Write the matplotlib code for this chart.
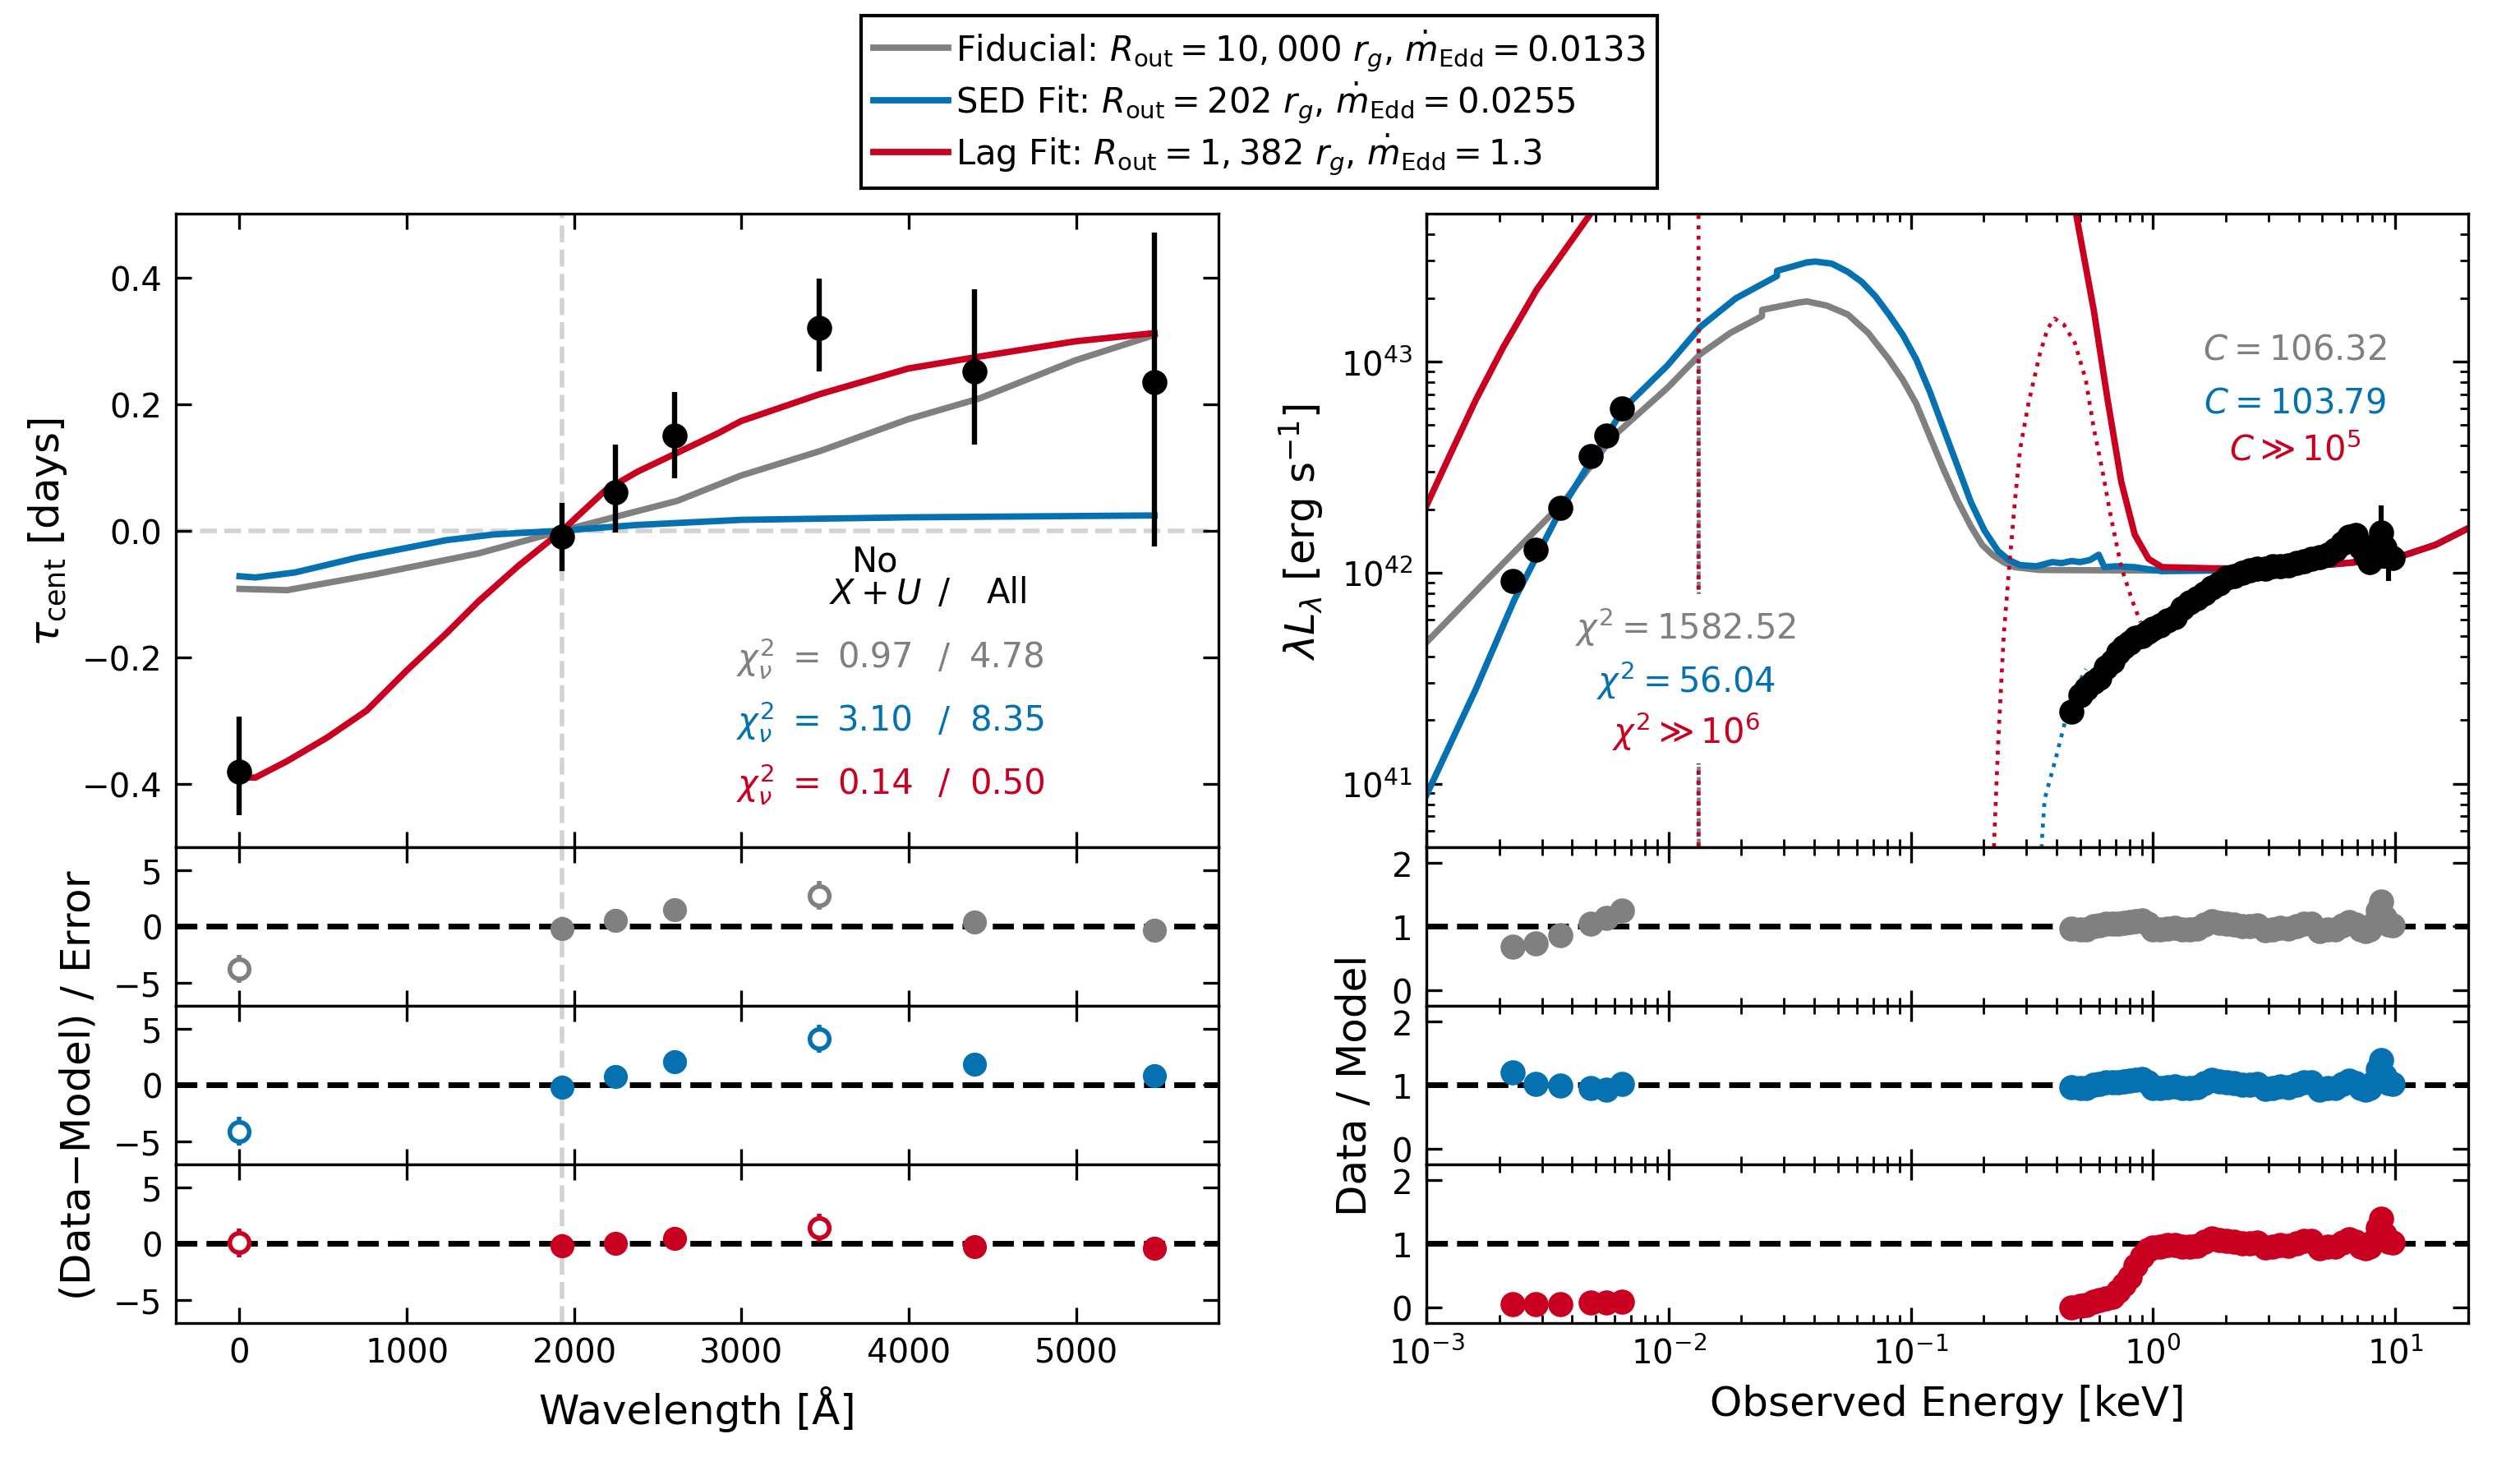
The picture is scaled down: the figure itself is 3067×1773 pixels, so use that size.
import matplotlib
matplotlib.use('Agg')
import matplotlib.pyplot as plt
import numpy as np

# ---------------- colours ----------------
GRAY, BLUE, RED = '#808080', '#0571b0', '#ca0020'

# ---------------- left: lag spectrum ----------------
wl = [0, 1928, 2246, 2600, 3465, 4392, 5468]
tau = [-0.381, -0.009, 0.060, 0.150, 0.320, 0.252, 0.234]
tau_lo = [0.069, 0.055, 0.063, 0.067, 0.068, 0.116, 0.259]
tau_hi = [0.087, 0.053, 0.076, 0.069, 0.078, 0.129, 0.237]
excluded = [True, False, False, False, True, False, False]
ref_wl = 1928

fid_wl = [0, 285, 809, 1427, 1928, 2616, 2997, 3473, 3996, 4424, 4995, 5468]
fid_tau = [-0.092, -0.094, -0.069, -0.036, 0.0, 0.047, 0.087, 0.126, 0.176, 0.209, 0.269, 0.309]
sed_wl = [0, 95, 333, 714, 1237, 1522, 1928, 2378, 2997, 3996, 5468]
sed_tau = [-0.072, -0.074, -0.066, -0.042, -0.015, -0.006, 0.0, 0.009, 0.017, 0.021, 0.024]
lag_wl = [0, 95, 285, 523, 761, 999, 1237, 1427, 1665, 1928, 2188, 2378, 2616, 2854,
          2997, 3473, 3996, 4424, 4995, 5468]
lag_tau = [-0.390, -0.390, -0.364, -0.327, -0.284, -0.221, -0.162, -0.112, -0.056, 0.0,
           0.064, 0.093, 0.123, 0.153, 0.173, 0.216, 0.256, 0.275, 0.299, 0.312]

res_fid = [-3.75, -0.20, 0.56, 1.50, 2.74, 0.39, -0.35]
res_sed = [-4.08, -0.21, 0.78, 2.06, 4.11, 1.81, 0.82]
res_lag = [0.07, -0.18, 0.00, 0.46, 1.41, -0.28, -0.39]
res_err = [1.25, 1.0, 1.0, 1.0, 1.25, 1.0, 1.0]

chi2_noXU = ['0.97', '3.10', '0.14']
chi2_all = ['4.78', '8.35', '0.50']

# ---------------- right: SED ----------------
fid_E = [0.001, 0.00208, 0.00369, 0.00589, 0.00991, 0.01355, 0.018, 0.0243, 0.02435, 0.0345,
         0.0373, 0.0451, 0.055, 0.0667, 0.0813, 0.0927, 0.1054, 0.120, 0.1365, 0.1555, 0.177,
         0.197, 0.218, 0.242, 0.2685, 0.339, 0.40, 1.0, 1.84, 3.0, 5.0, 7.0, 10.0, 14.7, 20.0]
fid_logL = [41.669, 42.045, 42.335, 42.644, 42.876, 43.036, 43.136, 43.215, 43.245, 43.28,
            43.285, 43.265, 43.223, 43.136, 43.01, 42.914, 42.80, 42.644, 42.49, 42.345, 42.22,
            42.132, 42.084, 42.049, 42.026, 42.013, 42.012, 42.01, 42.02, 42.02, 42.035, 42.05,
            42.068, 42.132, 42.21]
sed_E = [0.001, 0.0016, 0.00231, 0.00351, 0.00455, 0.00655, 0.00991, 0.01355, 0.01897, 0.0280,
         0.02805, 0.0373, 0.0404, 0.0472, 0.055, 0.0627, 0.0714, 0.0813, 0.0927, 0.1054, 0.120,
         0.1365, 0.1555, 0.177, 0.2014, 0.229, 0.254, 0.282, 0.33, 0.384, 0.42, 0.46, 0.50,
         0.55, 0.597, 0.630, 0.70, 0.838, 1.086, 1.84, 3.0, 5.0, 7.0, 10.0, 14.7, 20.0]
sed_logL = [40.945, 41.447, 41.872, 42.277, 42.49, 42.78, 42.982, 43.165, 43.30, 43.405,
            43.43, 43.47, 43.474, 43.464, 43.425, 43.378, 43.31, 43.223, 43.127, 43.01, 42.856,
            42.683, 42.509, 42.335, 42.2, 42.103, 42.06, 42.036, 42.03, 42.05, 42.045, 42.055,
            42.05, 42.06, 42.085, 42.026, 42.03, 42.026, 42.007, 42.01, 42.02, 42.035, 42.05,
            42.068, 42.132, 42.21]
lag_E = [0.001, 0.00124, 0.0016, 0.00208, 0.00285, 0.0048, 0.007, 0.05, 0.40, 0.482, 0.570,
         0.650, 0.740, 0.841, 0.959, 1.09, 1.84, 3.0, 5.0, 7.0, 10.0, 14.7, 20.0]
lag_logL = [42.316, 42.547, 42.818, 43.069, 43.339, 43.706, 43.95, 45.5, 44.3, 43.696, 43.242,
            42.818, 42.43, 42.18, 42.065, 42.026, 42.02, 42.02, 42.035, 42.05, 42.068, 42.132,
            42.21]

# absorbed (observed-frame) models, dotted
lyman_E = 0.0133
fid_abs_E = [lyman_E, lyman_E]
fid_abs_logL = [43.03, 38.0]
sed_abs_E = [lyman_E, lyman_E, 0.30, 0.330, 0.348, 0.357, 0.397, 0.429, 0.463, 0.528]
sed_abs_logL = [43.155, 38.0, 38.0, 40.0, 40.733, 40.926, 41.12, 41.273, 41.408, 41.543]
lag_abs_E = [lyman_E, lyman_E, 0.20, 0.215, 0.221, 0.230, 0.242, 0.255, 0.269, 0.283, 0.306,
             0.340, 0.367, 0.392, 0.429, 0.476, 0.528, 0.570, 0.617, 0.667, 0.740, 0.820, 0.887]
lag_abs_logL = [46.0, 38.0, 38.0, 40.0, 40.73, 41.215, 41.70, 42.026, 42.335, 42.586, 42.80,
                43.03, 43.155, 43.204, 43.175, 43.088, 42.914, 42.683, 42.49, 42.277, 42.026,
                41.87, 41.766]

uv_E = [0.00227, 0.00282, 0.00358, 0.00477, 0.00552, 0.00643]
uv_logL = [41.962, 42.107, 42.306, 42.553, 42.650, 42.777]

xray_E = [0.46, 0.50, 0.53, 0.57, 0.60, 0.64, 0.68, 0.72, 0.76, 0.80, 0.85, 0.90, 0.95, 1.00,
          1.07, 1.15, 1.23, 1.32, 1.42, 1.52, 1.63, 1.75, 1.88, 2.02, 2.17, 2.33, 2.50, 2.70,
          2.90, 3.12, 3.36, 3.62, 3.90, 4.20, 4.52, 4.87, 5.25, 5.65, 6.05, 6.45, 6.85, 7.20,
          7.55, 7.85, 8.15, 8.45, 8.75, 9.05, 9.40, 9.80]
xray_logL = [41.34, 41.42, 41.45, 41.48, 41.50, 41.55, 41.58, 41.62, 41.65, 41.67, 41.69, 41.70,
             41.72, 41.735, 41.75, 41.775, 41.79, 41.83, 41.86, 41.88, 41.90, 41.93, 41.95,
             41.975, 41.985, 42.00, 42.01, 42.02, 42.02, 42.03, 42.03, 42.035, 42.045, 42.055,
             42.065, 42.075, 42.085, 42.11, 42.14, 42.17, 42.18, 42.12, 42.08, 42.05, 42.07,
             42.14, 42.19, 42.12, 42.08, 42.07]
xray_err_dex = [0.01] * 41 + [0.03, 0.04, 0.05, 0.07, 0.10, 0.13, 0.10, 0.12, 0.06]

ratio_fid_uv = [0.68, 0.73, 0.86, 1.05, 1.13, 1.25]
ratio_sed_uv = [1.20, 1.02, 0.99, 0.95, 0.93, 1.02]
ratio_lag_uv = [0.05, 0.05, 0.05, 0.07, 0.07, 0.08]

ratio_fid_x = [0.97, 0.95, 0.96, 1.00, 1.02, 1.04, 1.05, 1.04, 1.06, 1.07, 1.08, 1.10, 1.05,
               0.96, 0.95, 0.97, 0.98, 0.96, 0.95, 0.97, 1.03, 1.08, 1.06, 1.05, 1.03, 1.00,
               1.01, 1.02, 0.94, 0.96, 0.98, 0.97, 1.00, 1.05, 1.04, 0.93, 0.96, 0.95, 1.02,
               1.07, 1.03, 0.95, 0.93, 0.95, 1.05, 1.25, 1.40, 1.15, 1.03, 1.02]
ratio_sed_x = ratio_fid_x
ratio_lag_x = [0.00, 0.02, 0.04, 0.08, 0.11, 0.14, 0.17, 0.25, 0.36, 0.48, 0.65, 0.80, 0.90,
               0.94, 0.96, 0.98, 0.98, 0.96, 0.95, 0.97, 1.03, 1.08, 1.06, 1.05, 1.03, 1.00,
               1.01, 1.02, 0.94, 0.96, 0.98, 0.97, 1.00, 1.05, 1.04, 0.93, 0.96, 0.95, 1.02,
               1.07, 1.03, 0.95, 0.93, 0.95, 1.05, 1.25, 1.40, 1.15, 1.03, 1.02]
ratio_err_x = [0.02] * 41 + [0.05, 0.06, 0.07, 0.10, 0.14, 0.17, 0.14, 0.15, 0.08]

sed_chi2_txt = [r'$\chi^2 = 1582.52$', r'$\chi^2 = 56.04$', r'$\chi^2 \gg 10^6$']
sed_C_txt = [r'$C = 106.32$', r'$C = 103.79$', r'$C \gg 10^5$']

legend_labels = [r'Fiducial: $R_{\rm out} = 10,000\ r_g$, $\dot{m}_{\rm Edd} = 0.0133$',
                 r'SED Fit: $R_{\rm out} = 202\ r_g$, $\dot{m}_{\rm Edd} = 0.0255$',
                 r'Lag Fit: $R_{\rm out} = 1,382\ r_g$, $\dot{m}_{\rm Edd} = 1.3$']

# ---------------- style ----------------
plt.rcParams.update({
    'font.family': ['DejaVu Sans'],
    'font.size': 15,
    'mathtext.fontset': 'dejavusans',
    'axes.linewidth': 1.2,
    'xtick.direction': 'in', 'ytick.direction': 'in',
    'xtick.top': True, 'ytick.right': True,
    'xtick.major.size': 7, 'ytick.major.size': 7,
    'xtick.minor.size': 3.5, 'ytick.minor.size': 3.5,
    'xtick.major.width': 1.2, 'ytick.major.width': 1.2,
    'xtick.minor.width': 1.0, 'ytick.minor.width': 1.0,
    'xtick.major.pad': 6, 'ytick.major.pad': 6,
    'xtick.labelsize': 14.5, 'ytick.labelsize': 14.5,
})

fig = plt.figure(figsize=(3067 / 200, 1774 / 200), dpi=200)

L0, LW = 0.0698, 0.4137
R0, RW = 0.5660, 0.4134
TOP_B, TOP_H = 0.4183, 0.4343
RES_H = 0.1088
res_bottoms = [TOP_B - RES_H, TOP_B - 2 * RES_H, TOP_B - 3 * RES_H]
LTGRAY = '#d3d3d3'
MLW = 2.8
MS = 10

# ======== LEFT ========
axL = fig.add_axes([L0, TOP_B, LW, TOP_H])
axL.axhline(0, color=LTGRAY, ls='--', lw=2, zorder=1)
axL.axvline(ref_wl, color=LTGRAY, ls='--', lw=2, zorder=1)
l_fid, = axL.plot(fid_wl, fid_tau, color=GRAY, lw=MLW, zorder=2)
l_sed, = axL.plot(sed_wl, sed_tau, color=BLUE, lw=MLW, zorder=2)
l_lag, = axL.plot(lag_wl, lag_tau, color=RED, lw=MLW, zorder=2)
axL.errorbar(wl, tau, yerr=[tau_lo, tau_hi], fmt='o', color='k', ms=MS, elinewidth=2.3,
             capsize=0, zorder=5)
axL.set_xlim(-380, 5850)
axL.set_ylim(-0.5, 0.5)
axL.set_yticks([-0.4, -0.2, 0.0, 0.2, 0.4])
axL.set_xticks([0, 1000, 2000, 3000, 4000, 5000])
axL.tick_params(labelbottom=False)

tkw = dict(transform=axL.transAxes, ha='center', va='center', fontsize=15)
axL.text(0.671, 0.452, 'No', **tkw)
axL.text(0.671, 0.402, r'$X+U$', **tkw)
axL.text(0.737, 0.402, '/', **tkw)
axL.text(0.798, 0.402, 'All', **tkw)
for yy, c, v1, v2 in zip([0.300, 0.200, 0.101], [GRAY, BLUE, RED], chi2_noXU, chi2_all):
    axL.text(0.5556, yy, r'$\chi^2_\nu$', color=c, **tkw)
    axL.text(0.605, yy, '=', color=c, **tkw)
    axL.text(0.671, yy, v1, color=c, **tkw)
    axL.text(0.737, yy, '/', color=c, **tkw)
    axL.text(0.798, yy, v2, color=c, **tkw)

for i, (res, c) in enumerate(zip([res_fid, res_sed, res_lag], [GRAY, BLUE, RED])):
    ax = fig.add_axes([L0, res_bottoms[i], LW, RES_H])
    ax.axhline(0, color='k', ls='--', lw=2.5, zorder=1)
    ax.axvline(ref_wl, color=LTGRAY, ls='--', lw=2, zorder=0)
    for xi, ri, ex, ei in zip(wl, res, excluded, res_err):
        ax.errorbar(xi, ri, yerr=ei, fmt='o', color=c, mfc='white' if ex else c, mec=c,
                    mew=2, ms=8.5, elinewidth=2, capsize=0, zorder=3)
    ax.set_xlim(-380, 5850)
    ax.set_ylim(-7, 7)
    ax.set_yticks([-5, 0, 5])
    ax.set_xticks([0, 1000, 2000, 3000, 4000, 5000])
    if i < 2:
        ax.tick_params(labelbottom=False)
    else:
        ax.set_xlabel('Wavelength [Å]', fontsize=18, labelpad=7)

# ======== RIGHT ========
p = lambda a: 10 ** np.asarray(a)
axR = fig.add_axes([R0, TOP_B, RW, TOP_H])
axR.set_xscale('log')
axR.set_yscale('log')
axR.plot(fid_E, p(fid_logL), color=GRAY, lw=MLW, zorder=2)
axR.plot(sed_E, p(sed_logL), color=BLUE, lw=MLW, zorder=2)
axR.plot(lag_E, p(lag_logL), color=RED, lw=MLW, zorder=2)
axR.plot(fid_abs_E, p(fid_abs_logL), color=GRAY, ls=':', lw=1.7, zorder=3)
axR.plot(sed_abs_E, p(sed_abs_logL), color=BLUE, ls=':', lw=1.7, zorder=3)
axR.plot(lag_abs_E, p(lag_abs_logL), color=RED, ls=':', lw=1.7, zorder=3)
axR.errorbar(uv_E, p(uv_logL), fmt='o', color='k', ms=MS, zorder=5)
xL = p(xray_logL)
xerr_lo = xL - xL / p(xray_err_dex)
xerr_hi = xL * p(xray_err_dex) - xL
axR.errorbar(xray_E, xL, yerr=[xerr_lo, xerr_hi], fmt='o', color='k', ms=MS,
             elinewidth=2.2, capsize=0, zorder=5)
axR.set_xlim(1e-3, 20)
axR.set_ylim(5e40, 5e43)
axR.tick_params(which='both', labelbottom=False)

for yy, c, s in zip([0.349, 0.265, 0.184], [GRAY, BLUE, RED], sed_chi2_txt):
    axR.text(0.249, yy, s, color=c, transform=axR.transAxes, ha='center', va='center',
             fontsize=15, zorder=4,
             bbox=dict(facecolor='white', edgecolor='none', pad=5))
for yy, c, s in zip([0.787, 0.703, 0.628], [GRAY, BLUE, RED], sed_C_txt):
    axR.text(0.8336, yy, s, color=c, transform=axR.transAxes, ha='center', va='center',
             fontsize=15, zorder=4)

for i, (ruv, rx, c) in enumerate(zip([ratio_fid_uv, ratio_sed_uv, ratio_lag_uv],
                                     [ratio_fid_x, ratio_sed_x, ratio_lag_x],
                                     [GRAY, BLUE, RED])):
    ax = fig.add_axes([R0, res_bottoms[i], RW, RES_H])
    ax.set_xscale('log')
    ax.axhline(1, color='k', ls='--', lw=2.5, zorder=1)
    ax.errorbar(uv_E, ruv, fmt='o', color=c, ms=MS, zorder=3)
    ax.errorbar(xray_E, rx, yerr=ratio_err_x, fmt='o', color=c, ms=MS, elinewidth=2.2,
                capsize=0, zorder=3)
    ax.set_xlim(1e-3, 20)
    ax.set_ylim(-0.25, 2.25)
    ax.set_yticks([0, 1, 2])
    if i < 2:
        ax.tick_params(which='both', labelbottom=False)
    else:
        ax.set_xlabel('Observed Energy [keV]', fontsize=18, labelpad=6)

# y labels
fig.text(0.019, 0.635, r'$\tau_{\rm cent}$ [days]', rotation=90, ha='center', va='center',
         fontsize=18)
fig.text(0.031, 0.2555, r'(Data$-$Model) / Error', rotation=90, ha='center', va='center',
         fontsize=18)
fig.text(0.5166, 0.635, r'$\lambda L_\lambda$ [erg s$^{-1}$]', rotation=90, ha='center',
         va='center', fontsize=18)
fig.text(0.5377, 0.2555, 'Data / Model', rotation=90, ha='center', va='center', fontsize=18)

leg = fig.legend([l_fid, l_sed, l_lag], legend_labels, loc='upper center',
                 bbox_to_anchor=(0.4996, 0.989), fontsize=15, frameon=True, fancybox=False,
                 edgecolor='k', framealpha=1, handlelength=2.2, handletextpad=0.2,
                 borderpad=0.35, labelspacing=0.2, borderaxespad=0)
leg.get_frame().set_linewidth(1.5)

fig.savefig('out.png', dpi=200)
